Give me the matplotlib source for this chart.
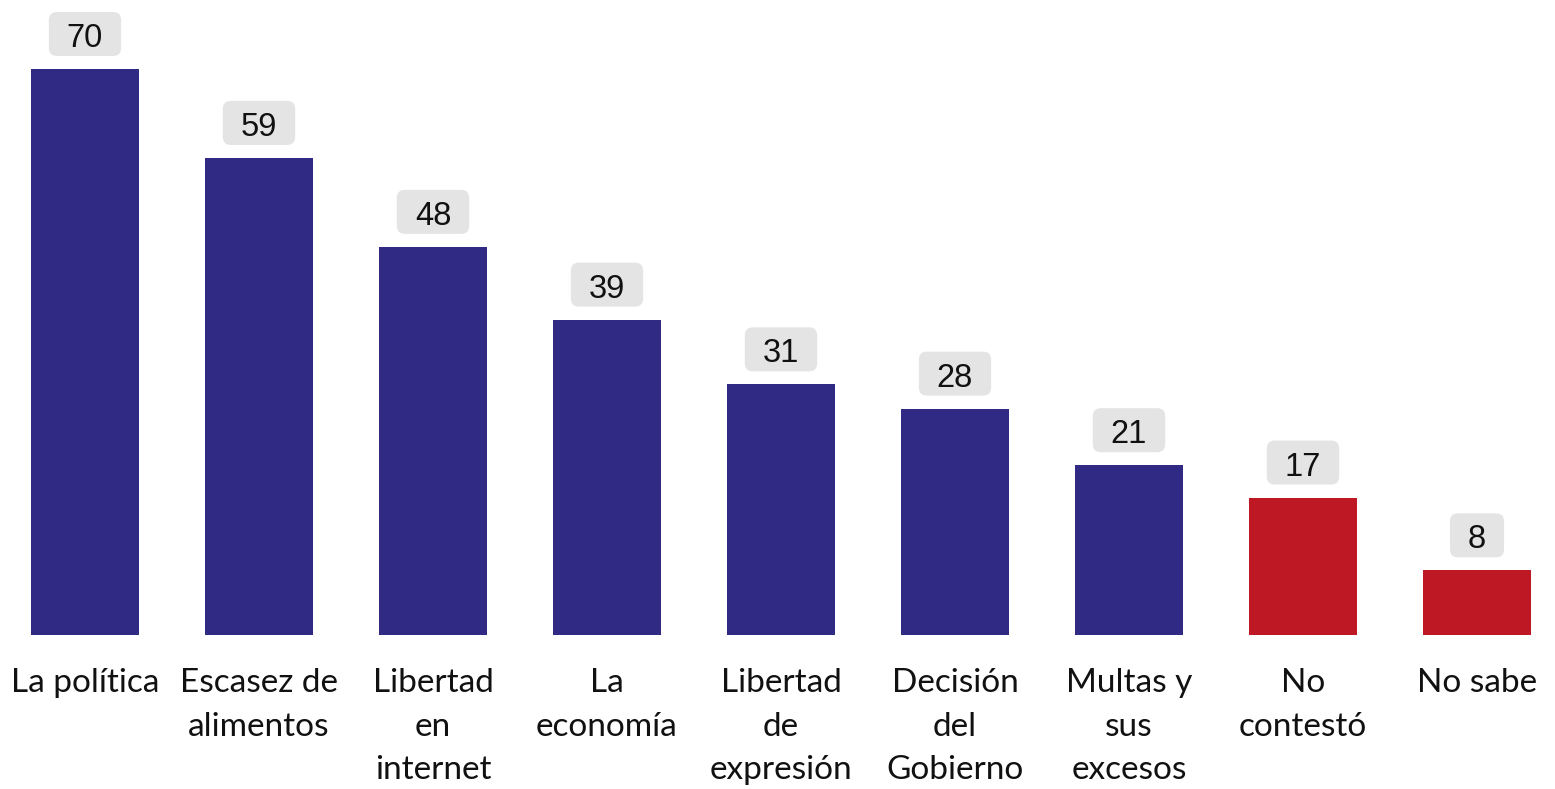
import matplotlib
matplotlib.use("Agg")
import matplotlib.pyplot as plt
from matplotlib.patches import FancyBboxPatch

# categories and percentages
categorias = ["La política", "Escasez de\nalimentos", "Libertad\nen\ninternet",
              "La\neconomía", "Libertad\nde\nexpresión", "Decisión\ndel\nGobierno",
              "Multas y\nsus\nexcesos", "No\ncontestó", "No sabe"]
valores = [70, 59, 48, 39, 31, 28, 21, 17, 8]
colores = ["#312a84"] * 7 + ["#be1824"] * 2

W, H = 1555, 789
fig = plt.figure(figsize=(W / 100, H / 100), dpi=100)
base = 635
ax = fig.add_axes([0, (H - base) / H, 1, base / H])

x = list(range(len(valores)))
ax.bar(x, valores, width=0.62, color=colores)
ax.set_xlim(-85 / 174, (W - 85) / 174)
ax.set_ylim(0, base / 8.086)
ax.axis("off")

# value labels sitting on the bar tops (offset in pixels -> points)
etiquetas = []
for xi, v in zip(x, valores):
    t = ax.annotate(str(v), (xi, v), xytext=(0, 22 * 0.72), textcoords="offset points",
                    ha="center", va="baseline", fontsize=23.5,
                    family="Liberation Sans", color="#111111", zorder=4,
                    annotation_clip=False)
    etiquetas.append(t)

# category labels under each bar
for xi, c in zip(x, categorias):
    ax.text(xi, -0.052, c, transform=ax.get_xaxis_transform(), ha="center",
            va="top", fontsize=24, family="Lato", linespacing=1.57,
            color="#111111", clip_on=False)

# grey rounded boxes behind the value labels
fig.canvas.draw()
r = fig.canvas.get_renderer()
for t, xi, v in zip(etiquetas, x, valores):
    bb = t.get_window_extent(r)
    px, py = ax.transData.transform((xi, v))
    w = bb.width + 36
    box = FancyBboxPatch((px - w / 2, py + 13), w, 44,
                         boxstyle="round,pad=0,rounding_size=8",
                         facecolor="#e4e4e4", edgecolor="none",
                         transform=None, zorder=3, clip_on=False)
    ax.add_artist(box)

fig.savefig("out.png", dpi=100)
